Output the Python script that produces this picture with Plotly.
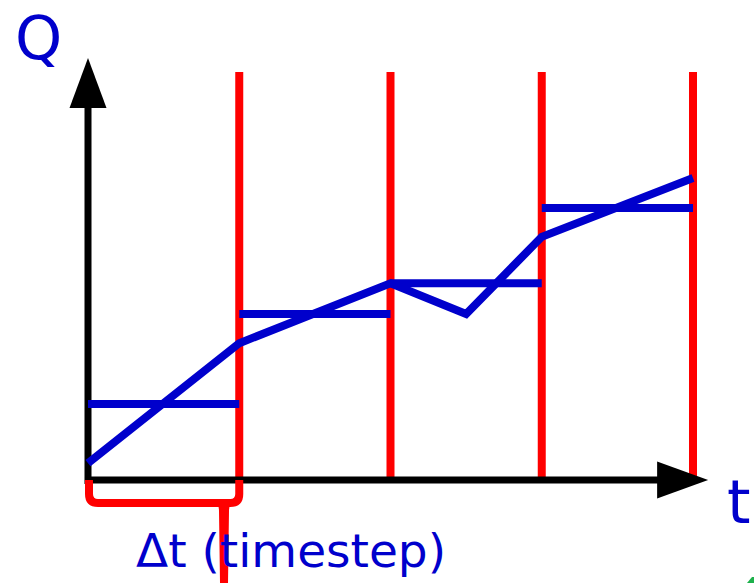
import plotly.graph_objects as go

# ---- data (t in timesteps, Q in arbitrary units) ----
t_bounds = [0, 1, 2, 3, 4]                 # timestep boundaries (red lines at 1..4)
t_line = [0, 1, 2, 2.5, 3, 4]              # continuous signal sample times
q_line = [0.42, 3.42, 4.92, 4.15, 6.08, 7.55]
q_step = [1.9, 4.15, 4.92, 6.8]            # per-timestep averaged values
q_top = 10.2                               # height of the red timestep lines

BLUE = "#0000CC"
RED = "#FF0000"

# scale: pixels per unit (used only to size layout ranges)
PX_T = 151.25
PX_Q = 40.0
W, H = 754, 583
X0, Y0 = 88, 480  # pixel position of origin

x_range = [-X0 / PX_T, (W - X0) / PX_T]
y_range = [-(H - Y0) / PX_Q, Y0 / PX_Q]

fig = go.Figure()

# red timestep lines
rx, ry = [], []
for tb in t_bounds[1:]:
    rx += [tb, tb, None]
    ry += [0, q_top, None]
fig.add_trace(go.Scatter(x=rx, y=ry, mode="lines",
                         line=dict(color=RED, width=8), hoverinfo="skip"))

# axes (shafts)
hw_t = 18.5 / PX_T
hw_q = 18.5 / PX_Q
head_len_q = 50 / PX_Q
head_len_t = 51 / PX_T
tip_q = 10.55
tip_t = 4.1
fig.add_trace(go.Scatter(x=[0, 0], y=[-0.1, tip_q - head_len_q + 0.1], mode="lines",
                         line=dict(color="black", width=7), hoverinfo="skip"))
fig.add_trace(go.Scatter(x=[-0.02, tip_t - head_len_t + 0.02], y=[0, 0], mode="lines",
                         line=dict(color="black", width=7), hoverinfo="skip"))

# blue step averages
sx, sy = [], []
for i, q in enumerate(q_step):
    sx += [t_bounds[i], t_bounds[i + 1], None]
    sy += [q, q, None]
fig.add_trace(go.Scatter(x=sx, y=sy, mode="lines",
                         line=dict(color=BLUE, width=8), hoverinfo="skip"))

# blue continuous line
fig.add_trace(go.Scatter(x=t_line, y=q_line, mode="lines",
                         line=dict(color=BLUE, width=8), hoverinfo="skip"))

shapes = []
# arrow heads
shapes.append(dict(type="path", xref="x", yref="y", fillcolor="black", line=dict(width=0),
                   path=f"M {-hw_t},{tip_q - head_len_q} L 0,{tip_q} L {hw_t},{tip_q - head_len_q} Z"))
shapes.append(dict(type="path", xref="x", yref="y", fillcolor="black", line=dict(width=0),
                   path=f"M {tip_t - head_len_t},{hw_q} L {tip_t},0 L {tip_t - head_len_t},{-hw_q} Z"))

# bracket under the first timestep
b0, b1 = t_bounds[0] + 1 / PX_T, t_bounds[1]
bq = -23 / PX_Q
rt, rq = 9 / PX_T, 9 / PX_Q
shapes.append(dict(type="path", xref="x", yref="y", line=dict(color=RED, width=8),
                   path=(f"M {b0},0 L {b0},{bq + rq} Q {b0},{bq} {b0 + rt},{bq} "
                         f"L {b1 - rt},{bq} Q {b1},{bq} {b1},{bq + rq} L {b1},0")))
hc = (224 - X0) / PX_T
shapes.append(dict(type="path", xref="x", yref="y", fillcolor=RED, line=dict(width=0),
                   path=(f"M {hc - 10 / PX_T},{bq} Q {hc - 5 / PX_T},{bq} {hc - 5 / PX_T},{bq - 8 / PX_Q} "
                         f"L {hc - 4 / PX_T},{y_range[0]} L {hc + 4 / PX_T},{y_range[0]} "
                         f"L {hc + 5 / PX_T},{bq - 8 / PX_Q} Q {hc + 5 / PX_T},{bq} {hc + 10 / PX_T},{bq} Z")))
# small green fragment at bottom right corner
shapes.append(dict(type="path", xref="paper", yref="paper", fillcolor="#1DB14B", line=dict(width=0),
                   path=f"M {747 / W},0 L {752 / W},{6 / H} L {754 / W},{6 / H} L {754 / W},0 Z"))

annotations = [
    dict(text="Q", x=(38 - X0) / PX_T, y=(480 - 38) / PX_Q, xref="x", yref="y",
         showarrow=False, font=dict(family="DejaVu Sans", size=60, color=BLUE)),
    dict(text="t", x=(739 - X0) / PX_T, y=(480 - 502) / PX_Q, xref="x", yref="y",
         showarrow=False, font=dict(family="DejaVu Sans", size=60, color=BLUE)),
    dict(text="Δt (timestep)", x=(291 - X0) / PX_T, y=(480 - 550) / PX_Q, xref="x", yref="y",
         showarrow=False, font=dict(family="DejaVu Sans", size=47, color=BLUE)),
]

fig.update_layout(
    width=W, height=H, margin=dict(l=0, r=0, t=0, b=0),
    paper_bgcolor="white", plot_bgcolor="white", showlegend=False,
    xaxis=dict(range=x_range, visible=False, fixedrange=True),
    yaxis=dict(range=y_range, visible=False, fixedrange=True),
    shapes=shapes, annotations=annotations,
)

fig.write_html("out.html", config={"displayModeBar": False},
               post_script="document.body.style.margin='0';document.body.style.overflow='hidden';")
